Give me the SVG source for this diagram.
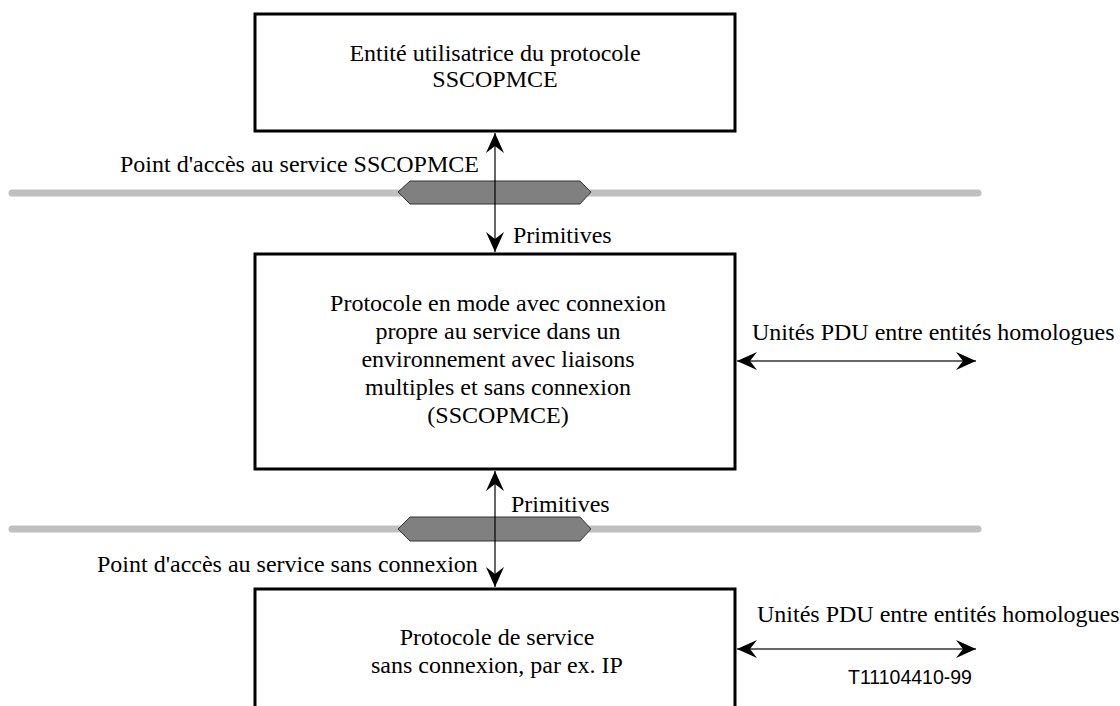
<svg xmlns="http://www.w3.org/2000/svg" width="1120" height="706" viewBox="0 0 1120 706">
<defs>
<style>
.box{fill:#fff;stroke:#000;stroke-width:3}
.t{font-family:"Liberation Serif","Times New Roman",serif;font-size:24px;fill:#000}
.c{text-anchor:middle}
.bar{stroke:#c0c0c0;stroke-width:7;stroke-linecap:round;fill:none}
.sap{fill:#808080;stroke:#333;stroke-width:1}
.ln{stroke:#000;stroke-width:1.2;fill:none}
.hl{stroke:#333;stroke-width:1.5;fill:none}
</style>
<marker id="ah" markerUnits="userSpaceOnUse" markerWidth="22" markerHeight="20" viewBox="-20 -10 22 20" refX="0" refY="0" orient="auto-start-reverse">
<path d="M0,0 L-20,-9 L-13,0 L-20,9 Z" fill="#000"/>
</marker>
</defs>
<rect width="1120" height="706" fill="#fff"/>
<g id="sap-top">
<line class="bar" x1="12" y1="193" x2="978" y2="193"/>
<polygon class="sap" points="398,192 410,181 580,181 591,192 580,204 410,204"/>
<text class="t" x="120" y="172">Point d'accès au service SSCOPMCE</text>
</g>
<g id="sap-bottom">
<line class="bar" x1="12" y1="529" x2="978" y2="529"/>
<polygon class="sap" points="398,529 410,517 580,517 591,529 580,541 410,541"/>
<text class="t" x="97" y="572">Point d'accès au service sans connexion</text>
</g>
<g id="user">
<rect class="box" x="255" y="14" width="480" height="117"/>
<text class="t c" x="495" y="61">Entité utilisatrice du protocole</text>
<text class="t c" x="495" y="87">SSCOPMCE</text>
</g>
<g id="sscopmce">
<rect class="box" x="255" y="254" width="480" height="215"/>
<text class="t c" x="498" y="311">Protocole en mode avec connexion</text>
<text class="t c" x="498" y="339">propre au service dans un</text>
<text class="t c" x="498" y="367">environnement avec liaisons</text>
<text class="t c" x="498" y="395">multiples et sans connexion</text>
<text class="t c" x="498" y="423">(SSCOPMCE)</text>
</g>
<g id="connectionless">
<path class="box" d="M255,708 L255,589 L735,589 L735,708"/>
<text class="t c" x="497" y="645">Protocole de service</text>
<text class="t c" x="497" y="673">sans connexion, par ex. IP</text>
</g>
<g id="connectors">
<line class="ln" x1="495" y1="133" x2="495" y2="252" marker-start="url(#ah)" marker-end="url(#ah)"/>
<line class="ln" x1="495" y1="471" x2="495" y2="587" marker-start="url(#ah)" marker-end="url(#ah)"/>
<line class="hl" x1="737" y1="361" x2="976" y2="361" marker-start="url(#ah)" marker-end="url(#ah)"/>
<line class="hl" x1="737" y1="649" x2="976" y2="649" marker-start="url(#ah)" marker-end="url(#ah)"/>
</g>
<g id="labels">
<text class="t" x="513" y="243">Primitives</text>
<rect x="510" y="492" width="80" height="24" fill="#fff"/>
<text class="t" x="511" y="512">Primitives</text>
<text class="t" x="752" y="340">Unités PDU entre entités homologues</text>
<text class="t" x="757" y="622">Unités PDU entre entités homologues</text>
<text x="848" y="684" style="font-family:'Liberation Sans',Arial,sans-serif;font-size:19.5px;fill:#000">T11104410-99</text>
</g>
</svg>
